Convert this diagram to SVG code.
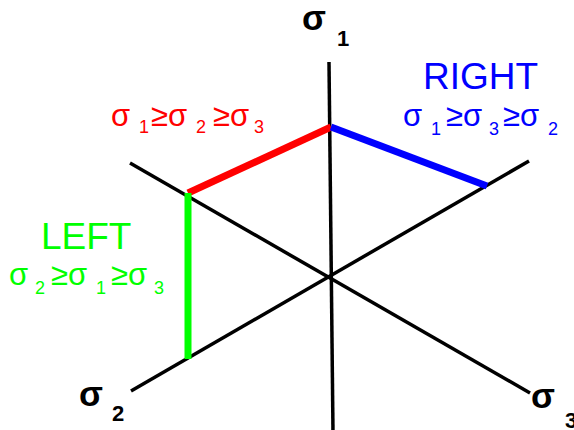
<svg xmlns="http://www.w3.org/2000/svg" width="574" height="430" viewBox="0 0 574 430">
<style>
.ax{stroke:#000;stroke-width:3.5;fill:none}
.seg{stroke-width:7;fill:none;stroke-linecap:butt}
text{font-family:"Liberation Sans",Arial,sans-serif}
.lb{font-weight:bold;fill:#000}
.m{font-size:31px}
.s{font-size:18px}
.big{font-size:37px}
.bs{font-size:35px}
.bsub{font-size:22px}
</style>
<rect width="574" height="430" fill="#fff"/>
<g id="connectors">
<line class="ax" x1="329" y1="62" x2="333" y2="432"/>
<line class="ax" x1="130" y1="163" x2="530" y2="393"/>
<line class="ax" x1="131" y1="391" x2="529" y2="161"/>
<line class="seg" stroke="#ff0000" x1="188" y1="193" x2="331" y2="127"/>
<line class="seg" stroke="#0000ff" x1="331" y1="127" x2="487" y2="186"/>
<line class="seg" stroke="#00ff00" x1="188" y1="193" x2="188" y2="359"/>
</g>
<g id="axis-s1"><text class="lb"><tspan class="bs" x="302" y="30">σ</tspan><tspan class="bsub" x="337" y="46">1</tspan></text></g>
<g id="axis-s2"><text class="lb"><tspan class="bs" x="79" y="406">σ</tspan><tspan class="bsub" x="112" y="421">2</tspan></text></g>
<g id="axis-s3"><text class="lb"><tspan class="bs" x="531" y="408">σ</tspan><tspan class="bsub" x="565" y="428">3</tspan></text></g>
<g id="red-label" fill="#ff0000">
<text><tspan class="m" x="111" y="126">σ</tspan><tspan class="s" x="139" y="133">1</tspan><tspan class="m" x="151" y="126">≥σ</tspan><tspan class="s" x="196" y="133">2</tspan><tspan class="m" x="213" y="126">≥σ</tspan><tspan class="s" x="254" y="133">3</tspan></text>
</g>
<g id="right-label" fill="#0000ff">
<text class="big" x="423" y="89">RIGHT</text>
<text><tspan class="m" x="403" y="126">σ</tspan><tspan class="s" x="431" y="135">1</tspan><tspan class="m" x="446" y="126">≥σ</tspan><tspan class="s" x="489" y="135">3</tspan><tspan class="m" x="503" y="126">≥σ</tspan><tspan class="s" x="548" y="135">2</tspan></text>
</g>
<g id="left-label" fill="#00ff00">
<text class="big" x="41" y="249">LEFT</text>
<text><tspan class="m" x="9" y="285">σ</tspan><tspan class="s" x="35" y="294">2</tspan><tspan class="m" x="51" y="285">≥σ</tspan><tspan class="s" x="96" y="294">1</tspan><tspan class="m" x="111" y="285">≥σ</tspan><tspan class="s" x="154" y="294">3</tspan></text>
</g>
</svg>
